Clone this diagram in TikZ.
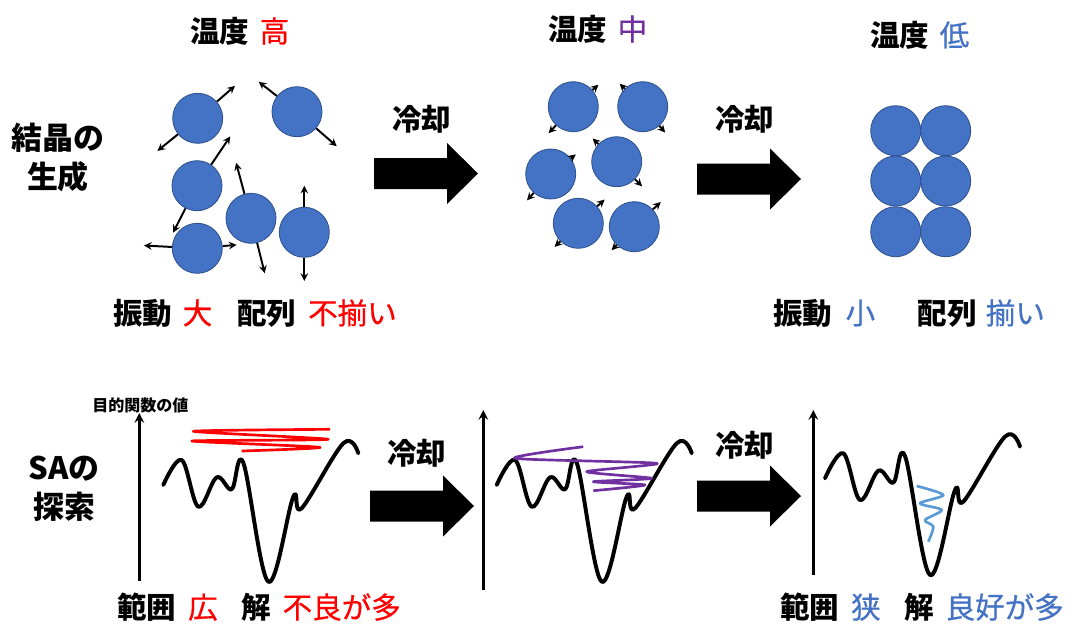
\documentclass[tikz,border=0pt]{standalone}
\usepackage{fontspec}
\setmainfont{Noto Sans CJK JP}
\usepackage{xcolor}
\usepackage{tikz}
\usetikzlibrary{arrows, positioning}

\definecolor{hot}{HTML}{FF0000}
\definecolor{warm}{HTML}{7030A0}
\definecolor{cold}{HTML}{4472C4}
\definecolor{ball}{HTML}{4472C4}
\definecolor{ballrim}{HTML}{2F528F}
\definecolor{walk}{HTML}{5B9BD5}

% coloured keyword inside a bold caption
\newcommand{\tone}[2]{{\mdseries\addfontfeatures{FakeBold=0.6}\color{#1}#2}}

\begin{document}
\begin{tikzpicture}[x=0.025cm, y=-0.025cm]
	% Styles
	\tikzstyle{atom} = [circle, draw=ballrim, fill=ball, minimum size=1.25cm, inner sep=0pt, line width=0.6pt]
	\tikzstyle{vib} = [line width=1.4pt, ->, >=stealth]
	\tikzstyle{lbl} = [font=\bfseries\fontsize{21}{26}\selectfont, inner sep=0pt, anchor=west]
	\tikzstyle{side} = [font=\bfseries\fontsize{22}{27.7}\selectfont, inner sep=0pt, align=center]
	\tikzstyle{axis} = [line width=2pt, ->, >=stealth]
	\tikzstyle{curve} = [line width=2.8pt, line join=round, line cap=round]
	\tikzstyle{trail} = [line width=1.9pt, line join=round]
	\tikzset{
		landscape/.pic={\draw[curve] plot[smooth, tension=0.6] coordinates {(0,0) (18.4,-25) (35,21.7) (53.4,-7.7) (68.4,4.3) (80,-22.3) (105,96.7) (130,11.7) (138.4,23.3) (180,-41.7) (195,-31.7)};},
		cooling/.pic={\fill (0,-15.5) -- (73,-15.5) -- (73,-30.5) -- (104,0) -- (73,30.5) -- (73,15.5) -- (0,15.5) -- cycle;}
	}

	\useasboundingbox (0,0) rectangle (1072,625);

	% Headings
	\node[lbl] (tHigh) at (190,31) {温度\hspace{0.35em}\tone{hot}{高}};
	\node[lbl] (tMid) at (548,29) {温度\hspace{0.35em}\tone{warm}{中}};
	\node[lbl] (tLow) at (870,35) {温度\hspace{0.35em}\tone{cold}{低}};
	\node[side] (crystal) at (58,157) {結晶の\\生成};
	\node[side] (search) at (64,489) {SAの\\探索};

	% High temperature: loose atoms
	\node[atom] (h1) at (197.7,118.3) {};
	\node[atom] (h2) at (297,111.7) {};
	\node[atom] (h3) at (197,185.7) {};
	\node[atom] (h4) at (197.3,248.3) {};
	\node[atom] (h5) at (251,218.3) {};
	\node[atom] (h6) at (304.3,232.3) {};
	\draw[vib] (h1.41) -- ++(41:0.6cm);
	\draw[vib] (h1.219) -- ++(219:0.66cm);
	\draw[vib] (h2.142) -- ++(142:0.58cm);
	\draw[vib] (h2.-41) -- ++(-41:0.68cm);
	\draw[vib] (h3.56) -- ++(56:0.85cm);
	\draw[vib] (h3.243) -- ++(243:0.68cm);
	\draw[vib] (h4.177) -- ++(177:0.7cm);
	\draw[vib] (h4.5) -- ++(5:0.35cm);
	\draw[vib] (h5.105) -- ++(105:0.8cm);
	\draw[vib] (h5.-76) -- ++(-76:0.78cm);
	\draw[vib] (h6.90) -- ++(90:0.53cm);
	\draw[vib] (h6.-90) -- ++(-90:0.58cm);

	% Medium temperature
	\node[atom] (m1) at (573.3,106.7) {};
	\node[atom] (m2) at (642.7,106.7) {};
	\node[atom] (m3) at (550.7,174) {};
	\node[atom] (m4) at (616.7,161.7) {};
	\node[atom] (m5) at (578.3,223.3) {};
	\node[atom] (m6) at (634.3,226.7) {};
	\draw[vib] (m1.41) -- ++(41:0.2cm);
	\draw[vib] (m1.227) -- ++(227:0.27cm);
	\draw[vib] (m2.135) -- ++(135:0.18cm);
	\draw[vib] (m2.-49) -- ++(-49:0.22cm);
	\draw[vib] (m3.38) -- ++(38:0.16cm);
	\draw[vib] (m3.228) -- ++(228:0.25cm);
	\draw[vib] (m4.136) -- ++(136:0.2cm);
	\draw[vib] (m4.-44) -- ++(-44:0.25cm);
	\draw[vib] (m5.42) -- ++(42:0.25cm);
	\draw[vib] (m5.225) -- ++(225:0.2cm);
	\draw[vib] (m6.43) -- ++(43:0.27cm);
	\draw[vib] (m6.226) -- ++(226:0.18cm);

	% Low temperature: packed lattice
	\foreach \r/\y in {1/130.7, 2/181, 3/231.7} {
		\node[atom] (l\r a) at (895.7,\y) {};
		\node[atom] (l\r b) at (945.7,\y) {};
	}

	% Cooling steps
	\pic (coolA) at (374,173.5) {cooling};
	\pic (coolB) at (697,179) {cooling};
	\pic (coolC) at (370,506) {cooling};
	\pic (coolD) at (697,496) {cooling};
	\node[lbl] (wA) at (392,119) {冷却};
	\node[lbl] (wB) at (715,119) {冷却};
	\node[lbl] (wC) at (387,453) {冷却};
	\node[lbl] (wD) at (715,445) {冷却};

	% Captions
	\node[lbl] (capHigh) at (113,313) {振動\hspace{0.35em}\tone{hot}{大}\hspace{0.85em}配列\hspace{0.4em}\tone{hot}{不揃い}};
	\node[lbl] (capLow) at (773,313) {振動\hspace{0.45em}\tone{cold}{小}\hspace{1.45em}配列\hspace{0.3em}\tone{cold}{揃い}};
	\node[lbl] (capWide) at (117,607) {範囲\hspace{0.4em}\tone{hot}{広}\hspace{0.8em}解\hspace{0.4em}\tone{hot}{不良が多}};
	\node[lbl] (capNarrow) at (780,607) {範囲\hspace{0.4em}\tone{cold}{狭}\hspace{0.8em}解\hspace{0.4em}\tone{cold}{良好が多}};

	% Objective value axes
	\node[font=\bfseries\fontsize{11.4}{14}\selectfont, inner sep=0pt, anchor=west] (yname) at (92,405) {目的関数の値};
	\coordinate (ax1b) at (139.3,580.7);
	\coordinate (ax1t) at (139.3,413);
	\coordinate (ax2b) at (483.3,590);
	\coordinate (ax2t) at (483.3,410);
	\coordinate (ax3b) at (813.3,575);
	\coordinate (ax3t) at (813.3,410);
	\draw[axis] (ax1b) -- (ax1t);
	\draw[axis] (ax2b) -- (ax2t);
	\draw[axis] (ax3b) -- (ax3t);

	% Energy landscapes
	\pic at (163.3,485) {landscape};
	\pic at (496.7,485) {landscape};
	\pic at (825,478.3) {landscape};

	% Search trails
	\draw[trail, hot] plot[smooth, tension=0.4] coordinates {(330,429.3) (193.3,431.3) (328.3,439.3) (191.7,441) (320,447.3) (241.7,451)};
	\draw[trail, warm] plot[smooth, tension=0.4] coordinates {(583.3,446.7) (515,458.3) (656.7,463.3) (586.7,471.7) (651.7,478.3) (593.3,481.7) (645,485) (593.3,490.7)};
	\draw[trail, walk] plot[smooth, tension=0.5] coordinates {(916.7,486) (943.3,495) (920,503.3) (941.7,510) (925,520) (933.3,526.7) (928.3,541.7)};
\end{tikzpicture}
\end{document}
